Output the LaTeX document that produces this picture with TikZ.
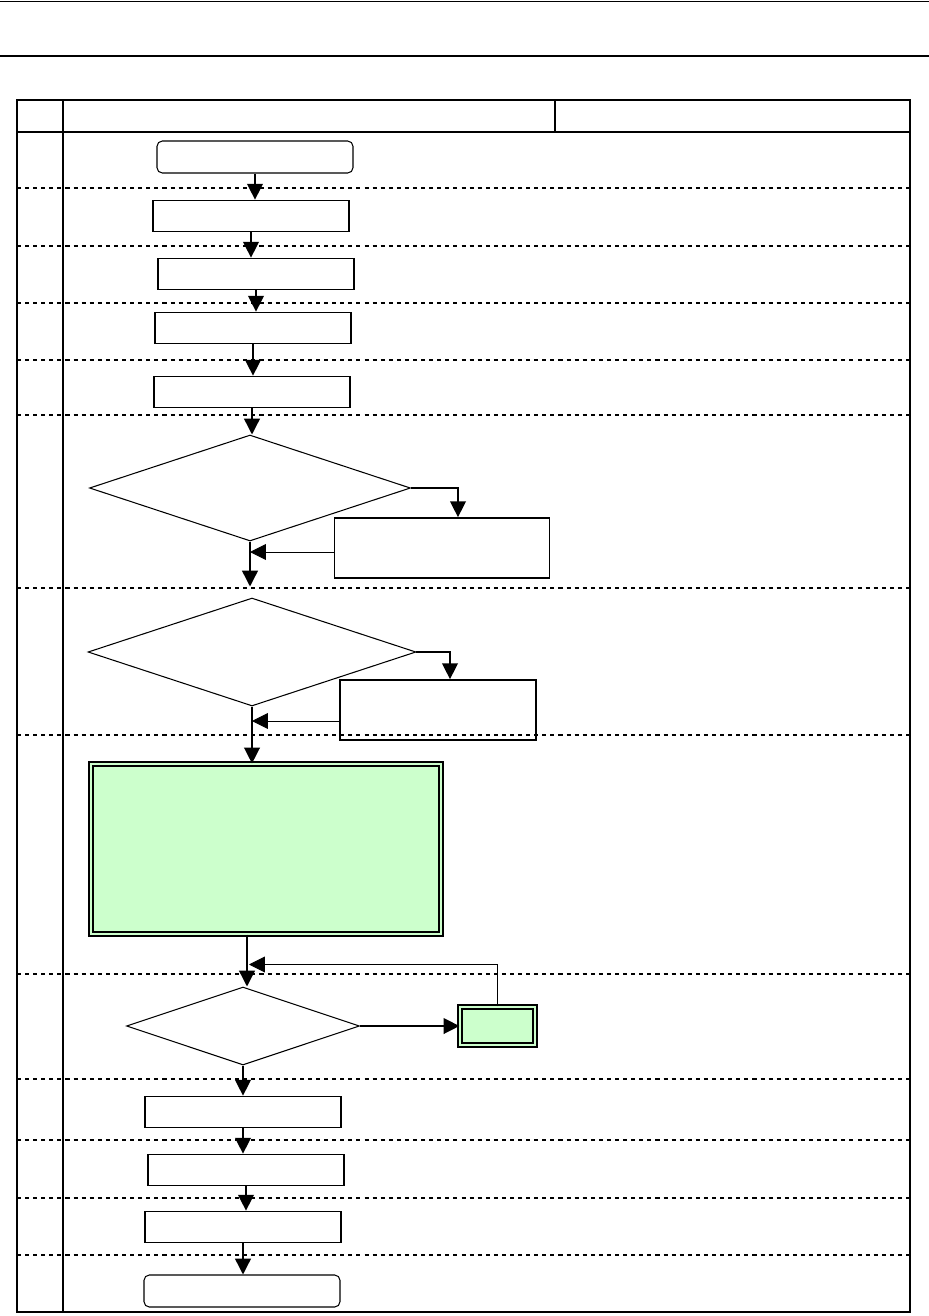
\documentclass[tikz,border=0pt]{standalone}
\usepackage{tikz}
\usetikzlibrary{arrows.meta,calc,positioning,shapes.geometric}
\usepackage{xcolor}
\definecolor{boxgreen}{HTML}{CCFFCC}
\tikzset{
  procbox/.style={draw,line width=1pt,minimum width=3.92cm,minimum height=0.62cm,inner sep=0pt},
  termbox/.style={draw,line width=0.6pt,rounded corners=3pt,minimum width=3.92cm,minimum height=0.64cm,inner sep=0pt},
  decision/.style={diamond,draw,line width=0.6pt,inner sep=0pt},
  greenbox/.style={draw,line width=0.7pt,double=boxgreen,double distance=1.6pt,fill=boxgreen,inner sep=0pt},
  arr/.style={line width=0.8pt,-{Triangle[width=9pt,length=9pt]}},
  thinarr/.style={line width=0.5pt,-{Triangle[width=9pt,length=9pt]}},
  rowline/.style={line width=0.6pt,dash pattern=on 2.3pt off 2.3pt}
}

\begin{document}
\begin{tikzpicture}[x=0.02cm,y=-0.02cm]
  \useasboundingbox (0,0) rectangle (929,1316);
  % Page rules
  \draw[line width=0.5pt] (0,1) -- (929,1);
  \draw[line width=1.2pt] (0,56) -- (929,56);
  % Table frame
  \draw[line width=0.8pt] (17,100) rectangle (910,1312);
  \draw[line width=0.8pt] (17,132) -- (910,132);
  \draw[line width=0.8pt] (63,100) -- (63,1312);
  \draw[line width=0.8pt] (555,100) -- (555,132);
  % Row separators
  \foreach \y in {188,246,303,360,415,588,735,974,1079,1140,1198,1255}
    \draw[rowline] (17,\y) -- (910,\y);

  % Steps
  \node[termbox] (start) at (255,157) {};
  \node[procbox] (prep) at (251,216) {};
  \node[procbox] (load) at (256,274) {};
  \node[procbox] (init) at (253,328) {};
  \node[procbox] (setup) at (252,392) {};
  % First check
  \node[decision,minimum width=6.42cm,minimum height=2.12cm] (checka) at (250,488) {};
  \node[procbox,minimum width=4.3cm,minimum height=1.2cm] (fixa) at (442,548) {};
  % Second check
  \node[decision,minimum width=6.56cm,minimum height=2.16cm] (checkb) at (252,652) {};
  \node[procbox,minimum width=3.92cm,minimum height=1.2cm] (fixb) at (438,710) {};
  % Main work
  \node[greenbox,minimum width=7.0cm,minimum height=3.4cm] (work) at (266,849) {};
  % Loop check
  \node[decision,minimum width=4.66cm,minimum height=1.56cm] (checkc) at (243,1026) {};
  \node[greenbox,minimum width=1.5cm,minimum height=0.76cm] (redo) at (497.5,1026) {};
  % Closing steps
  \node[procbox] (save) at (243,1112) {};
  \node[procbox] (report) at (246,1170) {};
  \node[procbox] (clean) at (243,1227) {};
  \node[termbox] (stop) at (242,1291) {};

  % Connectors
  \draw[arr] (start.south) -- (start.south |- prep.north);
  \draw[arr] (prep.south) -- (prep.south |- load.north);
  \draw[arr] (load.south) -- (load.south |- init.north);
  \draw[arr] (init.south) -- (init.south |- setup.north);
  \draw[arr] (setup.south) -- (setup.south |- checka.north);
  \draw[arr] (checka.east) -| ([xshift=0.32cm]fixa.north);
  \draw[thinarr] ([yshift=-0.08cm]fixa.west) -- ([yshift=-0.08cm]fixa.west -| checka.south);
  \draw[arr] (checka.south) -- ([yshift=0.22cm]checka.south |- checkb.north);
  \draw[arr] (checkb.east) -| ([xshift=0.24cm]fixb.north);
  \draw[thinarr] ([yshift=-0.22cm]fixb.west) -- ([yshift=-0.22cm]fixb.west -| checkb.south);
  \draw[arr] (checkb.south) -- (checkb.south |- work.north);
  \draw[arr] ([xshift=-0.38cm]work.south) -- ([xshift=-0.38cm]work.south |- checkc.north);
  \draw[arr] (checkc.east) -- (redo.west);
  \draw[thinarr] (redo.north) |- ([xshift=0.12cm,yshift=0.44cm]checkc.north);
  \draw[arr] (checkc.south) -- (checkc.south |- save.north);
  \draw[arr] (save.south) -- (save.south |- report.north);
  \draw[arr] (report.south) -- (report.south |- clean.north);
  \draw[arr] (clean.south) -- (clean.south |- stop.north);
\end{tikzpicture}
\end{document}
